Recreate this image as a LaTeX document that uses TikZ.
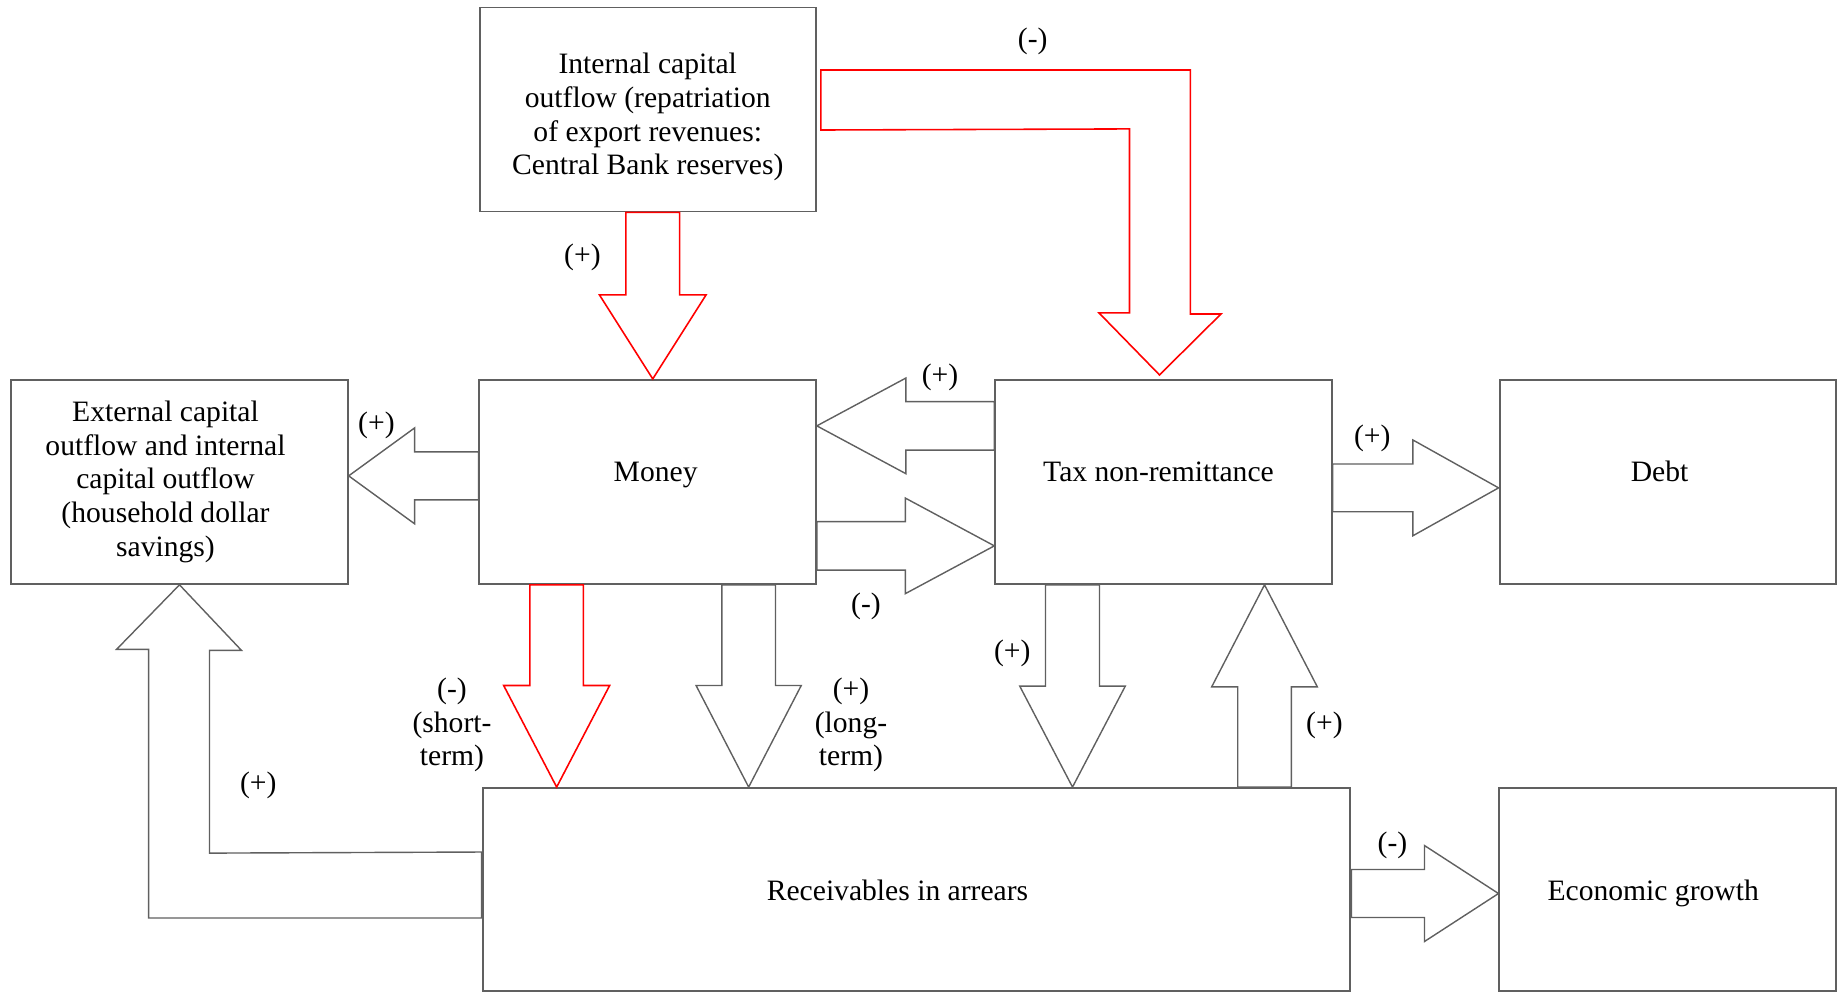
\documentclass[tikz,border=0pt]{standalone}
\usepackage{fontspec}
\setmainfont{Liberation Serif}
\usetikzlibrary{calc}

\definecolor{lineg}{RGB}{96,96,96}

\tikzset{
  box/.style={draw=lineg, line width=1.1pt, minimum width=6.73cm, minimum height=4.08cm, inner sep=0pt},
  onerow/.style={text height=0.5em, text depth=0.5em},
  lowrow/.style={minimum height=4.06cm, text height=17.5pt, text depth=5pt},
  sign/.style={inner sep=0pt, align=center},
  grey arrow/.style={draw=lineg, line width=0.8pt},
  red arrow/.style={draw=red, line width=0.9pt}
}

% block arrow: start, tip (|- or -| target), shaft half width, head half width, head length
\newcommand{\blockarrow}[6][grey arrow]{%
  \path (#2) coordinate (ba-s) (ba-s #3) coordinate (ba-t);
  \path ($(ba-t)!#6*0.02cm!(ba-s)$) coordinate (ba-h);
  \draw[#1] ($(ba-s)!#4*0.02cm!90:(ba-t)$) -- ($(ba-h)!#4*0.02cm!90:(ba-t)$)
    -- ($(ba-h)!#5*0.02cm!90:(ba-t)$) -- (ba-t)
    -- ($(ba-h)!#5*0.02cm!-90:(ba-t)$) -- ($(ba-h)!#4*0.02cm!-90:(ba-t)$)
    -- ($(ba-s)!#4*0.02cm!-90:(ba-t)$) -- cycle;
}

\begin{document}
\begin{tikzpicture}[x=0.02cm, y=-0.02cm, font=\fontsize{16.85}{19.2}\selectfont]
  \useasboundingbox (0,0) rectangle (1845,992);

  % Boxes
  \node[box, align=center, text height=78pt] (inflow) at (647.75,109.5) {Internal capital\\ outflow (repatriation\\ of export revenues:\\ Central Bank reserves)};
  \node[box, align=center] (extout) at (179.5,481.85) {External capital\kern.56cm\\ outflow and internal\kern.56cm\\ capital outflow\kern.56cm\\ (household dollar\kern.56cm\\ savings)\kern.56cm};
  \node[box, onerow] (money) at (647.65,481.85) {\kern0.32cm Money};
  \node[box, onerow] (tax) at (1163.5,481.85) {Tax non-remittance\kern0.2cm};
  \node[box, onerow] (debt) at (1667.75,481.85) {Debt\kern0.33cm};
  \node[box, lowrow, minimum width=17.36cm] (recv) at (916.5,889.5) {Receivables in arrears\kern0.76cm};
  \node[box, lowrow] (growth) at (1667.65,889.5) {Economic growth\kern0.58cm};

  % Straight arrows
  \blockarrow[red arrow]{$(inflow.south)+(5,0)$}{|- money.north}{26.8}{53.3}{84}
  \blockarrow{$(money.west)+(0,-6)$}{-| extout.east}{24}{48}{66}
  \blockarrow{$(tax.west)+(0,-56)$}{-| money.east}{24.2}{47.8}{89}
  \blockarrow{$(money.east)+(0,64)$}{-| tax.west}{24.2}{47.8}{89}
  \blockarrow[red arrow]{$(money.south)+(-91,0)$}{|- recv.north}{26.8}{53}{101.6}
  \blockarrow{$(money.south)+(101,0)$}{|- recv.north}{26.8}{52.6}{101.6}
  \blockarrow{$(tax.south)+(-91,0)$}{|- recv.north}{27}{52.8}{101}
  \blockarrow{$(recv.north)+(348,0)$}{|- tax.south}{26.8}{52.8}{102}
  \blockarrow{$(tax.east)+(0,6)$}{-| debt.west}{23.9}{47.9}{85.7}
  \blockarrow{$(recv.east)+(0,4)$}{-| growth.west}{24}{48}{74}

  % Bent arrows
  \draw[red arrow] ($(inflow.east)+(4,-39.5)$) -- ++(369.5,0) -- ++(0,244) -- ++(30.5,0)
    -- ($(tax.north)+(-4,-4)$) -- ++(-60.5,-62) -- ++(30.5,0) -- ++(0,-184)
    -- ($(inflow.east)+(4,20.5)$) -- cycle;
  \draw[grey arrow] ($(recv.west)+(0,28.5)$) -- ++(-333,0) -- ++(0,-268.7) -- ++(-32,0)
    -- (extout.south) -- ++(62,65.6) -- ++(-32,0) -- ++(0,202.7)
    -- ($(recv.west)+(0,-37.5)$) -- cycle;

  % Signs
  \node[sign] (s-inmoney) at (582.4,257.5) {(+)};
  \node[sign] (s-intax) at (1032.7,41.5) {(-)};
  \node[sign] (s-moneyext) at (376.4,425) {(+)};
  \node[sign] (s-taxmoney) at (940,377.5) {(+)};
  \node[sign] (s-moneytax) at (866,606) {(-)};
  \node[sign] (s-taxdebt) at (1372.2,438) {(+)};
  \node[sign] (s-short) at (452,725) {(-)\\(short-\\term)};
  \node[sign] (s-long) at (851,725) {(+)\\(long-\\term)};
  \node[sign] (s-taxrecv) at (1012.3,653) {(+)};
  \node[sign] (s-recvtax) at (1324.4,725) {(+)};
  \node[sign] (s-recvext) at (258.3,785) {(+)};
  \node[sign] (s-recvgrowth) at (1392.5,845) {(-)};
\end{tikzpicture}
\end{document}
